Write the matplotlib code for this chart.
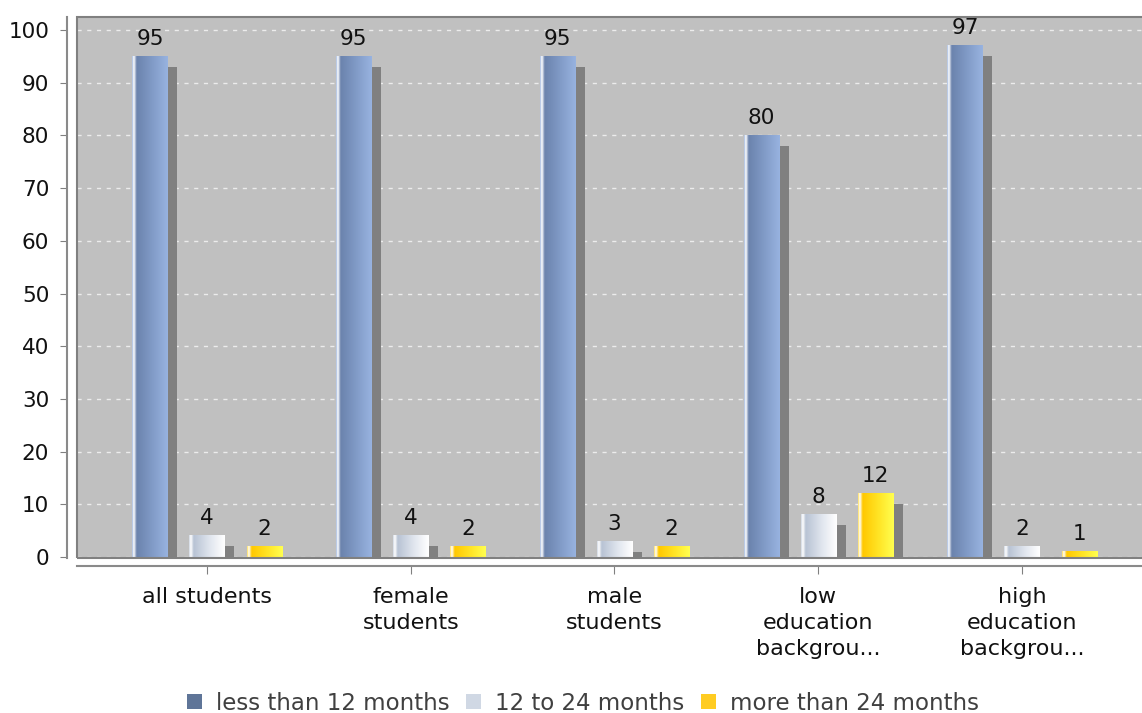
import numpy as np
import matplotlib
matplotlib.use("Agg")
import matplotlib.pyplot as plt
from matplotlib.colors import LinearSegmentedColormap
from matplotlib.patches import Patch, Rectangle

categories = ["all students", "female\nstudents", "male\nstudents",
              "low\neducation\nbackgrou...", "high\neducation\nbackgrou..."]
series_names = ["less than 12 months", "12 to 24 months", "more than 24 months"]
less_12 = [95, 95, 95, 80, 97]
from_12_to_24 = [4, 4, 3, 8, 2]
more_24 = [2, 2, 2, 12, 1]
y_ticks = [0, 10, 20, 30, 40, 50, 60, 70, 80, 90, 100]

# legend swatch colours and horizontal gradient stops for each series
swatch = ["#5f7598", "#d0d8e4", "#ffcc22"]
stops = [
    [(0, "#a8bce0"), (0.05, "#ffffff"), (0.13, "#6b83ad"), (0.55, "#809ac6"), (1, "#98b3e0")],
    [(0, "#d0d8e4"), (0.05, "#ffffff"), (0.13, "#b8c3d4"), (0.6, "#e2e7ef"), (1, "#ffffff")],
    [(0, "#ffe060"), (0.05, "#ffffff"), (0.13, "#ffc800"), (0.6, "#ffe628"), (1, "#ffff50")],
]

plt.rcParams["font.family"] = "DejaVu Sans"
fig = plt.figure(figsize=(11.42, 7.13), dpi=100)
ax = fig.add_axes([77 / 1142, 1 - 558 / 713, 1 - 77 / 1142, (558 - 17) / 713])
ax.set_facecolor("#c0c0c0")

x = np.arange(len(categories))
offsets = [-0.28, 0.0, 0.28]
width = 0.172
shadow_dx = 0.049
shadow_dy = 2.0

grad = np.linspace(0, 1, 200).reshape(1, -1)
for values, off, st in zip([less_12, from_12_to_24, more_24], offsets, stops):
    cmap = LinearSegmentedColormap.from_list("bar", st)
    pos = x + off
    for p, v in zip(pos, values):
        # drop shadow behind the bar
        if v > shadow_dy:
            ax.bar(p + shadow_dx, v - shadow_dy, width, color="#808080",
                   zorder=2, linewidth=0)
        ax.imshow(grad, cmap=cmap, aspect="auto", zorder=3,
                  extent=[p - width / 2, p + width / 2, 0, v])
        ax.annotate(str(v), (p, v), xytext=(0, 5.5), textcoords="offset points",
                    ha="center", va="bottom", fontsize=15.5, color="#111111", zorder=4)

ax.set_xlim(-0.638, 4.589)
ax.set_ylim(-0.19, 102.47)

ax.set_yticks(y_ticks)
ax.yaxis.grid(True, color="#ececec", linestyle=(0, (3, 4)), linewidth=1)
ax.set_axisbelow(True)

ax.tick_params(axis="x", length=6, color="#808080")
ax.tick_params(axis="y", length=5, color="#808080", pad=8, labelsize=15.5,
               labelcolor="#111111")
ax.set_xticks(x)
ax.set_xticklabels([])
# category names drawn as text so the line spacing can be set
for xi, cat in zip(x, categories):
    ax.annotate(cat, (xi, 0), xycoords=ax.get_xaxis_transform(), xytext=(0, -20.9),
                textcoords="offset points", ha="center", va="top", fontsize=16,
                color="#111111", linespacing=1.36, annotation_clip=False)

for side in ["top", "right"]:
    ax.spines[side].set_visible(False)
ax.spines["left"].set_position(("outward", 7))
ax.spines["bottom"].set_position(("outward", 6))
for side in ["left", "bottom"]:
    ax.spines[side].set_color("#8a8a8a")
    ax.spines[side].set_linewidth(1.5)

# plot area outline
ax.add_patch(Rectangle((0, 0), 1.2, 1, transform=ax.transAxes, fill=False,
                       edgecolor="#808080", linewidth=1.5, zorder=5, clip_on=False))

handles = [Patch(facecolor=c, edgecolor="none") for c in swatch]
fig.legend(handles, series_names, loc="center", bbox_to_anchor=(583 / 1142, 1 - 703 / 713),
           ncol=3, frameon=False, fontsize=16.5, handlelength=0.65, handleheight=0.65,
           handletextpad=0.6, columnspacing=0.75, labelcolor="#404040")

fig.savefig("out.png", dpi=100)
